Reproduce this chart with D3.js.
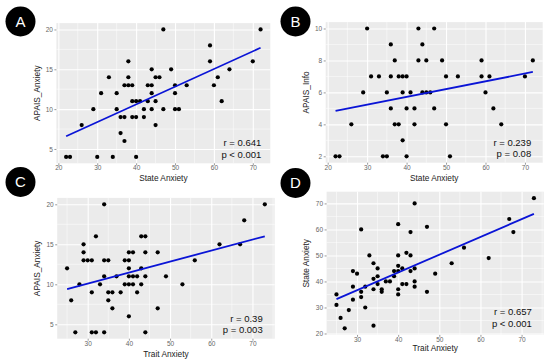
<!DOCTYPE html>
<html>
<head>
<meta charset="utf-8">
<script src="https://cdn.jsdelivr.net/npm/d3@7"></script>
<style>
  body { margin: 0; background: #fff; }
  svg { display: block; font-family: "Liberation Sans", Arial, sans-serif; }
</style>
</head>
<body>
<svg id="chart" width="550" height="364"></svg>
<script>
// ----------------------------
// Data
// ----------------------------
const stateA = [22,23,26,29,30,31,33,34,35,35,36,36,37,37,37,38,38,38,39,39,39,40,40,40,41,42,42,43,43,44,44,44,44,45,45,45,46,47,47,49,50,50,50,51,53,59,59,60,61,62,64,70,72];
const apaisAnxA = [4,4,8,10,4,12,14,4,12,10,7,9,6,9,13,16,14,13,13,11,9,11,9,4,11,10,9,11,13,15,13,12,10,11,14,8,14,20,10,15,13,12,10,10,13,18,16,13,14,11,15,16,20];

const stateB = [22,23,26,29,30,31,33,34,35,35,36,36,36,37,37,38,38,39,39,39,40,40,40,41,42,42,43,43,44,44,45,45,46,47,47,49,50,50,51,53,59,59,60,61,62,64,70,72];
const apaisInfoB = [2,2,4,6,10,7,7,2,2,6,9,7,5,8,4,4,7,7,6,3,7,5,2,6,5,4,10,8,9,6,8,6,6,10,5,8,7,4,2,7,8,7,6,7,5,4,7,8];

const traitC = [25,26,27,28,29,29,29,30,31,31,31,32,32,33,34,34,34,34,35,35,35,36,36,37,38,39,39,40,40,40,40,40,40,41,41,41,42,42,43,43,43,44,44,44,44,47,47,49,53,56,62,67,68,73];
const apaisAnxC = [12,8,4,10,15,14,13,13,13,9,4,16,4,10,20,13,11,4,13,9,8,9,7,11,9,13,10,14,13,12,11,10,6,14,11,10,11,9,16,12,10,16,14,11,4,14,7,11,10,13,15,15,18,20];

const traitD = [25,25,26,27,28,29,29,29,30,31,31,31,32,32,33,34,34,34,34,35,35,35,36,36,37,38,39,39,40,40,40,40,40,40,41,41,42,42,43,43,43,44,44,44,44,47,47,49,53,56,62,67,68,73];
const stateD = [35,31,26,22,29,44,38,33,43,60,36,34,38,30,50,47,41,37,23,45,42,39,37,36,40,40,44,42,62,50,46,44,37,35,45,39,51,39,59,50,44,70,45,40,38,61,36,43,47,53,49,64,59,72];

// fitted line end points [x, y]
const fitA = [[22, 6.6], [72, 17.7]];
const fitB = [[22, 4.84], [72, 7.28]];
const fitC = [[25, 9.4], [73, 16.0]];
const fitD = [[25, 33.2], [73, 66.0]];

const statsA = ["r = 0.641", "p < 0.001"];
const statsB = ["r = 0.239", "p = 0.08"];
const statsC = ["r = 0.39", "p = 0.003"];
const statsD = ["r = 0.657", "p < 0.001"];

// ----------------------------
// Panel layout
// ----------------------------
const panels = [
  { tag: "A", tagPos: [20.5, 21.5], xs: stateA, ys: apaisAnxA, fit: fitA, stats: statsA,
    xTitle: "State Anxiety", yTitle: "APAIS_Anxiety",
    box: { l: 56.4, r: 270.3, t: 23.1, b: 163.3 },
    xDom: [19.5, 74.5], yDom: [3.2, 20.8],
    xTicks: [20,30,40,50,60,70], xMinor: [25,35,45,55,65],
    yTicks: [5,10,15,20], yMinor: [7.5,12.5,17.5],
    yTitleX: 40, xTitleY: 181, statDx: 9, statDy: [17, 5.5] },
  { tag: "B", tagPos: [295.5, 21.5], xs: stateB, ys: apaisInfoB, fit: fitB, stats: statsB,
    xTitle: "State Anxiety", yTitle: "APAIS_Info",
    box: { l: 325.7, r: 542.7, t: 22.1, b: 162.7 },
    xDom: [19.5, 74.5], yDom: [1.6, 10.4],
    xTicks: [20,30,40,50,60,70], xMinor: [25,35,45,55,65],
    yTicks: [2,4,6,8,10], yMinor: [3,5,7,9],
    yTitleX: 308.5, xTitleY: 181, statDx: 11.5, statDy: [16.5, 5.5] },
  { tag: "C", tagPos: [20.5, 182], xs: traitC, ys: apaisAnxC, fit: fitC, stats: statsC,
    xTitle: "Trait Anxiety", yTitle: "APAIS_Anxiety",
    box: { l: 57.2, r: 274.7, t: 197.9, b: 338.7 },
    xDom: [22.6, 75.4], yDom: [3.2, 20.8],
    xTicks: [30,40,50,60,70], xMinor: [25,35,45,55,65,75],
    yTicks: [5,10,15,20], yMinor: [7.5,12.5,17.5],
    yTitleX: 40, xTitleY: 356.5, statDx: 12, statDy: [17, 5.5] },
  { tag: "D", tagPos: [295.5, 183], xs: traitD, ys: stateD, fit: fitD, stats: statsD,
    xTitle: "Trait Anxiety", yTitle: "State Anxiety",
    box: { l: 326.6, r: 543.8, t: 191.7, b: 334.8 },
    xDom: [22.6, 75.4], yDom: [19.5, 74.5],
    xTicks: [30,40,50,60,70], xMinor: [25,35,45,55,65,75],
    yTicks: [20,30,40,50,60,70], yMinor: [25,35,45,55,65],
    yTitleX: 308.5, xTitleY: 351, statDx: 12, statDy: [19.5, 7.5] }
];

// ----------------------------
// Drawing
// ----------------------------
const svg = d3.select("#chart");

function drawPanel(p) {
  const { l, r, t, b } = p.box;
  const x = d3.scaleLinear().domain(p.xDom).range([l, r]);
  const y = d3.scaleLinear().domain(p.yDom).range([b, t]);
  const g = svg.append("g");

  g.append("rect")
    .attr("x", l).attr("y", t)
    .attr("width", r - l).attr("height", b - t)
    .attr("fill", "#ebebeb");

  // grid
  g.selectAll(".vminor").data(p.xMinor.filter(v => v > p.xDom[0] && v < p.xDom[1]))
    .join("line")
    .attr("x1", d => x(d)).attr("x2", d => x(d))
    .attr("y1", t).attr("y2", b)
    .attr("stroke", "#fff").attr("stroke-width", 0.5);
  g.selectAll(".hminor").data(p.yMinor)
    .join("line")
    .attr("y1", d => y(d)).attr("y2", d => y(d))
    .attr("x1", l).attr("x2", r)
    .attr("stroke", "#fff").attr("stroke-width", 0.5);

  const xAxis = g.append("g")
    .attr("transform", `translate(0,${b})`)
    .call(d3.axisBottom(x).tickValues(p.xTicks).tickSize(-(b - t)).tickPadding(2.5));
  const yAxis = g.append("g")
    .attr("transform", `translate(${l},0)`)
    .call(d3.axisLeft(y).tickValues(p.yTicks).tickSize(-(r - l)).tickPadding(3.5));

  [xAxis, yAxis].forEach(ax => {
    ax.select(".domain").remove();
    ax.selectAll(".tick line").attr("stroke", "#fff").attr("stroke-width", 1.1);
    ax.selectAll(".tick text")
      .attr("fill", "#666")
      .attr("font-size", 6.5)
      .attr("font-family", "Liberation Sans, Arial, sans-serif");
  });
  // small outside tick marks
  xAxis.selectAll(".tick").append("line")
    .attr("y1", 0).attr("y2", 2).attr("stroke", "#555").attr("stroke-width", 0.6);
  yAxis.selectAll(".tick").append("line")
    .attr("x1", 0).attr("x2", -2).attr("stroke", "#555").attr("stroke-width", 0.6);

  // points
  g.selectAll(".pt").data(p.xs)
    .join("circle")
    .attr("cx", (d, i) => x(p.xs[i]))
    .attr("cy", (d, i) => y(p.ys[i]))
    .attr("r", 2.1)
    .attr("fill", "#000");

  // fit line
  g.append("path")
    .datum(p.fit)
    .attr("fill", "none")
    .attr("stroke", "#0a14d6")
    .attr("stroke-width", 1.8)
    .attr("d", d3.line().x(d => x(d[0])).y(d => y(d[1])));

  // r / p annotation
  g.selectAll(".stat").data(p.stats)
    .join("text")
    .attr("x", r - p.statDx)
    .attr("y", (d, i) => b - p.statDy[i])
    .attr("text-anchor", "end")
    .attr("font-size", 9.5)
    .attr("fill", "#111")
    .text(d => d);

  // axis titles
  g.append("text")
    .attr("x", (l + r) / 2).attr("y", p.xTitleY)
    .attr("text-anchor", "middle")
    .attr("font-size", 8.3).attr("fill", "#222")
    .text(p.xTitle);
  g.append("text")
    .attr("transform", `translate(${p.yTitleX},${(t + b) / 2}) rotate(-90)`)
    .attr("text-anchor", "middle")
    .attr("font-size", 8.3).attr("fill", "#222")
    .text(p.yTitle);

  // panel tag
  g.append("circle")
    .attr("cx", p.tagPos[0]).attr("cy", p.tagPos[1])
    .attr("r", 15).attr("fill", "#000");
  g.append("text")
    .attr("x", p.tagPos[0]).attr("y", p.tagPos[1] + 5.3)
    .attr("text-anchor", "middle")
    .attr("font-size", 15).attr("fill", "#fff")
    .text(p.tag);
}

panels.forEach(drawPanel);
</script>
</body>
</html>
